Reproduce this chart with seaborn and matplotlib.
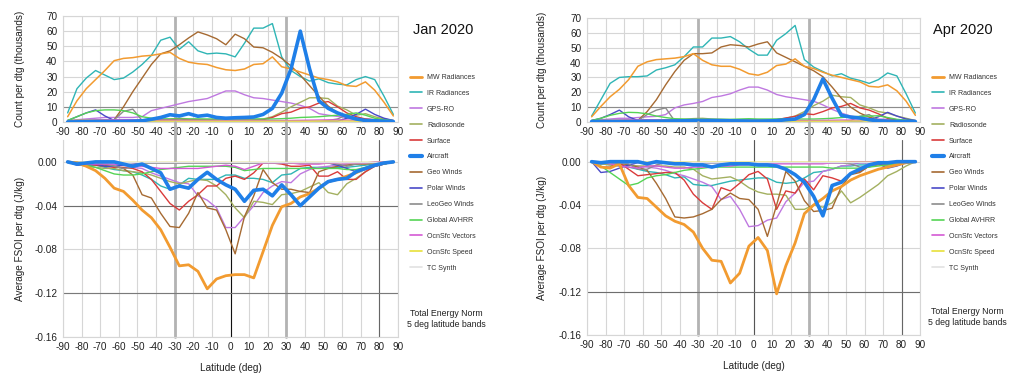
import matplotlib
matplotlib.use("Agg")
import matplotlib.pyplot as plt
from matplotlib.lines import Line2D
import pandas as pd
import seaborn as sns

sns.set_theme(style="white")
plt.rcParams["font.family"] = ["Liberation Sans", "DejaVu Sans"]
plt.rcParams["axes.unicode_minus"] = False

# 5-degree latitude band centres
latitude = [-87.5, -82.5, -77.5, -72.5, -67.5, -62.5, -57.5, -52.5, -47.5, -42.5,
            -37.5, -32.5, -27.5, -22.5, -17.5, -12.5, -7.5, -2.5, 2.5, 7.5,
            12.5, 17.5, 22.5, 27.5, 32.5, 37.5, 42.5, 47.5, 52.5, 57.5,
            62.5, 67.5, 72.5, 77.5, 82.5, 87.5]

series = ["MW Radiances", "IR Radiances", "GPS-RO", "Radiosonde", "Surface", "Aircraft",
          "Geo Winds", "Polar Winds", "LeoGeo Winds", "Global AVHRR", "OcnSfc Vectors",
          "OcnSfc Speed", "TC Synth"]
colors = ["#f29b30", "#2fb5b5", "#bf78e0", "#a3b060", "#d93b3b", "#1f7fe8",
          "#a66a32", "#4a4ac8", "#8c8c8c", "#55d455", "#d45ad4", "#e8e03a", "#e2e2e2"]

# ---------------- January 2020: counts per dtg (thousands) ----------------
jan_cnt_mw = [3.5, 14, 22, 28, 34, 40.5, 42, 42.5, 43.5, 44, 45, 46, 42, 39.5, 38.5, 38, 36, 34.5,
              34, 35, 38, 38.5, 43, 36.5, 35, 33, 31, 29, 28, 26.5, 24, 23.5, 26.5, 21, 13, 4]
jan_cnt_ir = [6, 22, 29, 34, 31, 28, 29, 33, 38, 44, 54, 56, 48, 53, 47, 45, 45.5, 45,
              43, 52, 62, 62, 65, 43, 34, 30, 27, 28.5, 26, 25, 24.5, 28, 30, 28, 17, 5]
jan_cnt_gps = [1, 1.5, 2, 2.5, 3, 3, 3, 3, 3.5, 7.5, 9, 10.5, 12, 13.5, 14.5, 15.5, 18, 20.5,
               20.5, 18, 16, 15.5, 14.5, 13.5, 12.5, 11, 9, 5.5, 4.5, 3.7, 3, 2.5, 2, 1.5, 1.2, 1]
jan_cnt_raob = [1, 1.2, 1.3, 1.4, 1.5, 1.5, 1.5, 1.5, 1.5, 1.6, 1.8, 2, 2.5, 2, 1.8, 1.6, 1.5, 1.4,
                1.4, 1.5, 1.6, 2, 3.5, 6.5, 10, 13, 16, 16, 15.5, 10.5, 8, 4.5, 5.5, 3.5, 2, 1]
jan_cnt_sfc = [0.3, 0.5, 0.6, 0.7, 0.8, 0.9, 1, 1, 1.1, 1.2, 1.3, 1.5, 2, 1.5, 1.3, 1.2, 1.1, 1,
               1, 1, 1.1, 1.5, 3, 5.5, 6.5, 9, 10, 12.5, 13.5, 10, 6, 3.5, 2, 1.5, 1, 0.5]
jan_cnt_air = [0, 0.1, 0.2, 0.3, 0.3, 0.3, 0.4, 0.5, 0.8, 1.8, 3, 4.8, 4, 5.5, 3.8, 4.5, 3, 2.5,
               2.8, 3, 3.3, 5, 9, 19, 35, 60, 35, 14, 9, 6, 3.7, 2, 1, 0.8, 0.5, 0.3]
jan_cnt_geo = [0.5, 0.5, 0.5, 0.5, 0.5, 1.5, 10, 20, 29, 38, 45, 47, 51, 55.5, 59.5, 57.5, 55, 51,
               58, 55, 49.5, 49, 46, 42, 37, 31, 24, 17, 10.5, 6, 3, 1.5, 1, 0.8, 0.5, 0.3]
jan_cnt_polar = [1, 3.5, 6, 8, 4, 1, 0.3, 0.2, 0.2, 0.2, 0.2, 0.2, 0.2, 0.2, 0.2, 0.2, 0.2, 0.2,
                 0.2, 0.2, 0.2, 0.2, 0.2, 0.2, 0.2, 0.2, 0.2, 0.3, 0.4, 0.5, 2.5, 5, 8.5, 5, 2.5, 1]
jan_cnt_leogeo = [0.3, 0.3, 0.3, 0.3, 0.5, 1.5, 7, 8.5, 1, 0.3, 0.3, 0.3, 0.3, 0.3, 0.3, 0.3, 0.3, 0.3,
                  0.3, 0.3, 0.3, 0.3, 0.3, 0.3, 0.3, 0.3, 0.3, 0.3, 1, 2, 4.8, 2.5, 0.5, 0.3, 0.3, 0.3]
jan_cnt_avhrr = [1, 3.5, 6, 7.5, 8, 8, 7.5, 6, 3.5, 2.5, 2, 2, 2, 2, 2, 2, 2, 2,
                 2.2, 2.2, 2, 2, 2, 2.2, 2.5, 3, 3.2, 3.5, 4, 4.5, 5, 6, 4.5, 2.5, 1.5, 0.8]
jan_cnt_vec = [0.5, 0.8, 1, 1.2, 1.3, 1.4, 1.5, 1.5, 1.4, 1.3, 1.2, 1.2, 1.1, 1.1, 1, 1, 1, 1,
               1, 1, 1, 1, 1, 1, 1, 1.1, 1.2, 1.3, 1.4, 1.4, 1.3, 1.2, 1, 0.8, 0.6, 0.4]
jan_cnt_spd = [0.3, 0.4, 0.5, 0.5, 0.6, 0.6, 0.6, 0.6, 0.6, 0.6, 0.5, 0.5, 0.5, 0.5, 0.5, 0.5, 0.5, 0.5,
               0.5, 0.5, 0.5, 0.5, 0.5, 0.5, 0.5, 0.5, 0.5, 0.6, 0.6, 0.6, 0.6, 0.5, 0.4, 0.3, 0.3, 0.2]
jan_cnt_tc = [0, 0, 0, 0, 0, 0, 0, 0, 0, 0, 0, 0, 0, 0, 0, 0, 0, 0,
              0, 0, 0, 0, 0, 0, 0, 0, 0, 0, 0, 0, 0, 0, 0, 0, 0, 0]

# ---------------- April 2020: counts per dtg (thousands) ----------------
apr_cnt_mw = [3.5, 10.5, 17, 22, 28.5, 37.5, 40.5, 42, 42.5, 43, 44, 46, 41.5, 38.5, 37.5, 37.5, 35.5, 32.5,
              31.5, 33.5, 38, 39, 42.5, 37.5, 36, 33.5, 31.5, 30, 28.5, 27, 24, 23.5, 25, 21, 14, 4.5]
apr_cnt_ir = [4, 15, 26, 30, 30.5, 30.5, 31, 35, 36.5, 38.5, 44, 50.5, 50.5, 56.5, 56.5, 57.5, 54, 49,
              45, 45, 55, 59.5, 65, 42, 37, 34, 31, 32.5, 29.5, 28, 26, 28.5, 33, 31, 19, 6]
apr_cnt_gps = [1, 1.5, 2, 2.5, 2.5, 3, 3.5, 3.8, 5, 9.5, 11.5, 12.5, 13.8, 16.5, 17.5, 19, 21.5, 23.5,
               23.5, 21.5, 18.5, 17, 16, 15, 14, 11.5, 8.5, 6, 4, 3, 2.5, 2, 1.8, 1.5, 1.2, 1]
apr_cnt_raob = [1, 1.1, 1.2, 1.3, 1.4, 1.4, 1.4, 1.5, 1.5, 1.6, 1.8, 2.3, 2.5, 2, 1.8, 1.6, 1.5, 1.4,
                1.4, 1.5, 1.8, 2.5, 4, 7, 11, 14, 18, 17, 16.5, 11.5, 9.5, 7, 6, 4, 2.5, 1]
apr_cnt_sfc = [0.3, 0.5, 0.6, 0.7, 0.8, 0.9, 1, 1, 1.1, 1.2, 1.3, 1.4, 1.5, 1.4, 1.3, 1.2, 1.1, 1,
               1, 1.1, 1.5, 2.7, 3.8, 5.6, 5, 7, 9.4, 10.5, 12.5, 9.5, 8, 5.5, 2.5, 1.5, 1, 0.5]
apr_cnt_air = [0.3, 0.3, 0.3, 0.3, 0.3, 0.4, 0.5, 0.5, 0.6, 0.7, 0.8, 1, 1, 1, 0.9, 0.8, 0.7, 0.6,
               0.6, 0.7, 0.9, 1.5, 2, 5, 15, 29, 16, 4.5, 3.3, 2.7, 1.5, 0.8, 0.5, 0.4, 0.3, 0.3]
apr_cnt_geo = [0.5, 0.5, 0.5, 0.5, 0.5, 1, 7, 15, 25, 34, 41.5, 46, 46, 46.5, 50.5, 52, 51.5, 50.5,
               52.5, 54, 46.5, 43.5, 40.5, 37.5, 34.5, 30.5, 23.5, 16, 10, 6, 3.3, 1.5, 1, 0.8, 0.5, 0.3]
apr_cnt_polar = [1, 2.5, 5, 8, 3.5, 1, 0.3, 0.2, 0.2, 0.2, 0.2, 0.2, 0.2, 0.2, 0.2, 0.2, 0.2, 0.2,
                 0.2, 0.2, 0.2, 0.2, 0.2, 0.2, 0.2, 0.2, 0.2, 0.2, 0.2, 0.3, 1.5, 3.5, 6.5, 4, 2, 1]
apr_cnt_leogeo = [0.3, 0.3, 0.3, 0.3, 0.5, 1, 5, 8, 9.5, 0.5, 0.3, 0.3, 0.3, 0.3, 0.3, 0.3, 0.3, 0.3,
                  0.3, 0.3, 0.3, 0.3, 0.3, 0.3, 0.3, 0.3, 0.3, 0.3, 1, 3.8, 5, 1, 0.3, 0.3, 0.3, 0.3]
apr_cnt_avhrr = [1, 2.5, 4.5, 5.8, 6.5, 6.3, 5.5, 4, 3, 2.2, 2, 1.8, 1.8, 1.8, 1.8, 1.8, 2, 2.2,
                 2, 2, 2, 2, 2, 2, 2, 2.2, 2.5, 3, 3.5, 3.8, 4, 4.2, 3, 1.8, 1.2, 0.8]
apr_cnt_vec = [0.5, 0.8, 1, 1.2, 1.3, 1.4, 1.4, 1.4, 1.3, 1.2, 1.2, 1.1, 1.1, 1, 1, 1, 1, 1,
               1, 1, 1, 1, 1, 1, 1, 1.1, 1.2, 1.3, 1.3, 1.3, 1.2, 1.1, 1, 0.8, 0.6, 0.4]
apr_cnt_spd = [0.3, 0.4, 0.5, 0.5, 0.6, 0.6, 0.6, 0.6, 0.6, 0.5, 0.5, 0.5, 0.5, 0.5, 0.5, 0.5, 0.5, 0.5,
               0.5, 0.5, 0.5, 0.5, 0.5, 0.5, 0.5, 0.5, 0.5, 0.5, 0.6, 0.6, 0.6, 0.5, 0.4, 0.3, 0.3, 0.2]
apr_cnt_tc = [0, 0, 0, 0, 0, 0, 0, 0, 0, 0, 0, 0, 0, 0, 0, 0, 0, 0,
              0, 0, 0, 0, 0, 0, 0, 0, 0, 0, 0, 0, 0, 0, 0, 0, 0, 0]

# ---------------- January 2020: average FSOI per dtg (J/kg) ----------------
jan_fsoi_mw = [0, -0.001, -0.004, -0.008, -0.015, -0.024, -0.027, -0.035, -0.044, -0.051, -0.062, -0.078,
               -0.095, -0.094, -0.100, -0.116, -0.107, -0.104, -0.103, -0.103, -0.106, -0.082, -0.058, -0.041,
               -0.038, -0.032, -0.029, -0.024, -0.018, -0.016, -0.013, -0.010, -0.006, -0.003, -0.001, 0]
jan_fsoi_ir = [0, -0.002, -0.003, -0.003, -0.005, -0.007, -0.008, -0.009, -0.012, -0.016, -0.022, -0.025,
               -0.021, -0.015, -0.016, -0.016, -0.016, -0.012, -0.012, -0.015, -0.015, -0.016, -0.019, -0.012,
               -0.011, -0.006, -0.005, -0.005, -0.005, -0.005, -0.005, -0.004, -0.003, -0.002, -0.001, 0]
jan_fsoi_gps = [0, -0.001, -0.002, -0.002, -0.002, -0.002, -0.003, -0.005, -0.006, -0.010, -0.013, -0.016,
                -0.019, -0.020, -0.031, -0.035, -0.042, -0.060, -0.060, -0.050, -0.040, -0.028, -0.022, -0.018,
                -0.019, -0.011, -0.007, -0.005, -0.004, -0.003, -0.002, -0.002, -0.001, -0.001, -0.001, 0]
jan_fsoi_raob = [0, -0.002, -0.004, -0.005, -0.006, -0.006, -0.008, -0.009, -0.010, -0.012, -0.015, -0.018,
                 -0.020, -0.018, -0.016, -0.017, -0.022, -0.030, -0.042, -0.051, -0.036, -0.037, -0.039, -0.030,
                 -0.029, -0.027, -0.023, -0.019, -0.028, -0.030, -0.020, -0.015, -0.009, -0.004, -0.002, 0]
jan_fsoi_sfc = [0, -0.001, -0.002, -0.003, -0.004, -0.005, -0.005, -0.006, -0.009, -0.016, -0.027, -0.038,
                -0.044, -0.036, -0.030, -0.022, -0.022, -0.015, -0.013, -0.016, -0.010, -0.001, -0.001, -0.002,
                -0.004, -0.004, -0.003, -0.013, -0.013, -0.009, -0.016, -0.016, -0.009, -0.004, -0.002, 0]
jan_fsoi_air = [0, -0.002, -0.001, 0, 0, 0, -0.002, -0.004, -0.002, -0.006, -0.010, -0.025,
                -0.022, -0.024, -0.016, -0.0095, -0.016, -0.021, -0.025, -0.036, -0.026, -0.025, -0.031, -0.021,
                -0.030, -0.040, -0.032, -0.024, -0.018, -0.016, -0.015, -0.009, -0.006, -0.003, -0.001, 0]
jan_fsoi_geo = [0, -0.001, -0.002, -0.002, -0.003, -0.004, -0.006, -0.012, -0.030, -0.033, -0.047, -0.059,
                -0.060, -0.047, -0.028, -0.042, -0.044, -0.062, -0.084, -0.050, -0.031, -0.007, -0.019, -0.025,
                -0.025, -0.027, -0.028, -0.009, -0.006, -0.004, -0.003, -0.002, -0.002, -0.001, -0.001, 0]
jan_fsoi_polar = [0, -0.003, -0.003, -0.002, -0.004, -0.004, -0.003, -0.002, -0.001, -0.001, -0.001, -0.001,
                  -0.001, -0.001, -0.001, -0.001, -0.001, -0.001, -0.001, -0.001, -0.001, -0.001, -0.001, -0.001,
                  -0.001, -0.001, -0.001, -0.001, -0.001, -0.003, -0.006, -0.009, -0.007, -0.004, -0.002, 0]
jan_fsoi_leogeo = [0, 0, -0.001, -0.001, -0.002, -0.004, -0.006, -0.005, -0.002, -0.001, -0.001, -0.001,
                   -0.001, -0.001, -0.001, -0.001, -0.001, -0.001, -0.001, -0.001, -0.001, -0.001, -0.001, -0.001,
                   -0.001, -0.001, -0.001, -0.001, -0.001, -0.002, -0.004, -0.002, -0.001, -0.001, 0, 0]
jan_fsoi_avhrr = [0, -0.002, -0.003, -0.005, -0.008, -0.011, -0.012, -0.012, -0.011, -0.009, -0.007, -0.006,
                  -0.005, -0.004, -0.004, -0.004, -0.004, -0.004, -0.005, -0.008, -0.007, -0.006, -0.006, -0.006,
                  -0.006, -0.006, -0.006, -0.006, -0.006, -0.006, -0.007, -0.007, -0.005, -0.003, -0.002, 0]
jan_fsoi_vec = [0, -0.001, -0.002, -0.002, -0.002, -0.002, -0.002, -0.003, -0.004, -0.005, -0.006, -0.006,
                -0.006, -0.006, -0.006, -0.005, -0.004, -0.003, -0.004, -0.007, -0.004, -0.001, -0.001, -0.001,
                -0.001, -0.002, -0.002, -0.002, -0.001, -0.001, -0.001, -0.001, -0.001, 0, 0, 0]
jan_fsoi_spd = [0, -0.0005, -0.0005, -0.0005, -0.0005, -0.0005, -0.0005, -0.0005, -0.0005, -0.0005, -0.0005, -0.0005,
                -0.0005, -0.0005, -0.0005, -0.0005, -0.0005, -0.0005, -0.0005, -0.0005, -0.0005, -0.0005, -0.0005, -0.0005,
                -0.0005, -0.0005, -0.0005, -0.0005, -0.0005, -0.0005, -0.0005, -0.0005, -0.0005, -0.0005, -0.0005, 0]
jan_fsoi_tc = [0, 0, 0, 0, 0, 0, 0, 0, 0, 0, 0, 0, 0, 0, 0, 0, 0, 0,
               0, 0, 0, 0, 0, 0, 0, 0, 0, 0, 0, 0, 0, 0, 0, 0, 0, 0]

# ---------------- April 2020: average FSOI per dtg (J/kg) ----------------
apr_fsoi_mw = [0, -0.005, -0.006, -0.002, -0.022, -0.033, -0.034, -0.042, -0.050, -0.055, -0.058, -0.065,
               -0.080, -0.091, -0.092, -0.112, -0.103, -0.078, -0.070, -0.082, -0.122, -0.096, -0.075, -0.048,
               -0.040, -0.034, -0.027, -0.023, -0.017, -0.013, -0.010, -0.007, -0.005, -0.003, -0.001, 0]
apr_fsoi_ir = [0, -0.002, -0.003, -0.004, -0.005, -0.007, -0.009, -0.010, -0.012, -0.015, -0.014, -0.021,
               -0.022, -0.022, -0.020, -0.018, -0.017, -0.016, -0.015, -0.015, -0.019, -0.020, -0.019, -0.015,
               -0.010, -0.009, -0.007, -0.004, -0.004, -0.003, -0.003, -0.002, -0.002, -0.001, -0.001, 0]
apr_fsoi_gps = [0, -0.002, -0.002, -0.002, -0.003, -0.004, -0.005, -0.006, -0.008, -0.011, -0.013, -0.016,
                -0.019, -0.023, -0.035, -0.032, -0.044, -0.060, -0.059, -0.054, -0.052, -0.037, -0.029, -0.019,
                -0.018, -0.009, -0.007, -0.004, -0.003, -0.001, -0.001, -0.001, -0.001, 0, 0, 0]
apr_fsoi_raob = [0, -0.002, -0.003, -0.003, -0.003, -0.004, -0.004, -0.004, -0.004, -0.005, -0.005, -0.007,
                 -0.013, -0.016, -0.015, -0.014, -0.018, -0.024, -0.028, -0.030, -0.030, -0.031, -0.044, -0.044,
                 -0.040, -0.042, -0.038, -0.027, -0.038, -0.033, -0.027, -0.021, -0.013, -0.009, -0.004, 0]
apr_fsoi_sfc = [0, -0.005, -0.005, -0.001, -0.007, -0.013, -0.012, -0.011, -0.010, -0.010, -0.017, -0.030,
                -0.038, -0.044, -0.024, -0.027, -0.020, -0.012, -0.009, -0.016, -0.044, -0.027, -0.029, -0.016,
                -0.026, -0.013, -0.015, -0.018, -0.011, -0.009, -0.004, -0.003, -0.003, -0.002, -0.001, 0]
apr_fsoi_air = [0, -0.001, 0, 0, 0, 0, -0.002, 0, -0.001, -0.002, -0.002, -0.003,
                -0.003, -0.005, -0.003, -0.002, -0.002, -0.002, -0.003, -0.003, -0.004, -0.007, -0.012, -0.019,
                -0.032, -0.050, -0.022, -0.019, -0.011, -0.007, -0.003, -0.001, -0.001, 0, 0, 0]
apr_fsoi_geo = [0, -0.001, -0.001, -0.001, -0.003, -0.005, -0.008, -0.020, -0.034, -0.051, -0.052, -0.051,
                -0.048, -0.044, -0.035, -0.029, -0.034, -0.035, -0.044, -0.069, -0.040, -0.009, -0.018, -0.036,
                -0.046, -0.045, -0.043, -0.023, -0.012, -0.010, -0.004, -0.002, -0.001, -0.001, 0, 0]
apr_fsoi_polar = [0, -0.010, -0.009, -0.006, -0.003, -0.001, -0.001, -0.001, -0.001, -0.001, -0.001, -0.001,
                  -0.001, -0.001, -0.001, -0.001, -0.001, -0.001, -0.001, -0.001, -0.001, -0.001, -0.001, -0.001,
                  -0.001, -0.001, -0.001, -0.001, -0.001, -0.001, -0.001, -0.002, -0.006, -0.004, -0.001, 0]
apr_fsoi_leogeo = [0, 0, -0.001, -0.001, -0.002, -0.007, -0.007, -0.003, -0.001, -0.001, -0.001, -0.001,
                   -0.001, -0.001, -0.001, -0.001, -0.001, -0.001, -0.001, -0.001, -0.001, -0.001, -0.001, -0.001,
                   -0.001, -0.001, -0.001, -0.001, -0.002, -0.005, -0.005, -0.002, -0.001, 0, 0, 0]
apr_fsoi_avhrr = [0, -0.004, -0.010, -0.016, -0.022, -0.020, -0.015, -0.013, -0.012, -0.010, -0.008, -0.007,
                  -0.006, -0.005, -0.005, -0.005, -0.005, -0.005, -0.005, -0.005, -0.005, -0.005, -0.005, -0.005,
                  -0.005, -0.005, -0.006, -0.006, -0.006, -0.006, -0.005, -0.004, -0.003, -0.002, -0.001, 0]
apr_fsoi_vec = [0, -0.001, -0.002, -0.004, -0.005, -0.006, -0.004, -0.004, -0.005, -0.006, -0.006, -0.005,
                -0.005, -0.004, -0.004, -0.004, -0.003, -0.003, -0.003, -0.002, -0.002, -0.002, -0.002, -0.002,
                -0.002, -0.002, -0.001, -0.001, 0, 0, 0, 0, 0, 0, 0, 0]
apr_fsoi_spd = [0, -0.0005, -0.0005, -0.0005, -0.0005, -0.0005, -0.0005, -0.0005, -0.0005, -0.0005, -0.0005, -0.0005,
                -0.0005, -0.0005, -0.0005, -0.0005, -0.0005, -0.0005, -0.0005, -0.0005, -0.0005, -0.0005, -0.0005, -0.0005,
                -0.0005, -0.0005, -0.0005, -0.0005, -0.0005, -0.0005, -0.0005, -0.0005, -0.0005, -0.0005, -0.0005, 0]
apr_fsoi_tc = [0, 0, 0, 0, 0, 0, 0, 0, 0, 0, 0, 0, 0, 0, 0, 0, 0, 0,
               0, 0, 0, 0, 0, 0, 0, 0, 0, 0, 0, 0, 0, 0, 0, 0, 0, 0]

jan_counts = [jan_cnt_mw, jan_cnt_ir, jan_cnt_gps, jan_cnt_raob, jan_cnt_sfc, jan_cnt_air, jan_cnt_geo,
              jan_cnt_polar, jan_cnt_leogeo, jan_cnt_avhrr, jan_cnt_vec, jan_cnt_spd, jan_cnt_tc]
apr_counts = [apr_cnt_mw, apr_cnt_ir, apr_cnt_gps, apr_cnt_raob, apr_cnt_sfc, apr_cnt_air, apr_cnt_geo,
              apr_cnt_polar, apr_cnt_leogeo, apr_cnt_avhrr, apr_cnt_vec, apr_cnt_spd, apr_cnt_tc]
jan_fsoi = [jan_fsoi_mw, jan_fsoi_ir, jan_fsoi_gps, jan_fsoi_raob, jan_fsoi_sfc, jan_fsoi_air, jan_fsoi_geo,
            jan_fsoi_polar, jan_fsoi_leogeo, jan_fsoi_avhrr, jan_fsoi_vec, jan_fsoi_spd, jan_fsoi_tc]
apr_fsoi = [apr_fsoi_mw, apr_fsoi_ir, apr_fsoi_gps, apr_fsoi_raob, apr_fsoi_sfc, apr_fsoi_air, apr_fsoi_geo,
            apr_fsoi_polar, apr_fsoi_leogeo, apr_fsoi_avhrr, apr_fsoi_vec, apr_fsoi_spd, apr_fsoi_tc]

count_ticks = [0, 10, 20, 30, 40, 50, 60, 70]
fsoi_ticks = [0.0, -0.04, -0.08, -0.12, -0.16]
lat_ticks = [-90, -80, -70, -60, -50, -40, -30, -20, -10, 0, 10, 20, 30, 40, 50, 60, 70, 80, 90]

GRID = "#d6d6d6"
FS = 7.2


def long_frame(values):
    parts = [pd.DataFrame({"Latitude": latitude, "value": v, "series": name})
             for name, v in zip(series, values)]
    return pd.concat(parts, ignore_index=True)


def draw_lines(ax, values, fsoi):
    df = long_frame(values)
    for k, name in enumerate(series):
        lw = 1.0
        z = 3
        if name == "Aircraft":
            lw, z = 2.6, 6
        elif name == "MW Radiances":
            lw, z = (2.0, 5) if fsoi else (1.1, 4)
        sub = df[df["series"] == name]
        sns.lineplot(data=sub, x="Latitude", y="value", ax=ax, color=colors[k],
                     linewidth=lw, zorder=z, legend=False, sort=False, estimator=None)


def base_style(ax):
    ax.set_xlim(-90, 90)
    ax.set_xticks(lat_ticks)
    ax.grid(True, color=GRID, linewidth=0.8, zorder=0)
    ax.tick_params(length=0, labelsize=FS, colors="#222222")
    ax.tick_params(axis="y", pad=4)
    ax.tick_params(axis="x", pad=3.5)
    ax.set_xlabel("")
    for s in ax.spines.values():
        s.set_color(GRID)
        s.set_linewidth(0.8)


def style_top(ax):
    base_style(ax)
    ax.set_ylim(0, 70)
    ax.set_yticks(count_ticks)
    ax.axhline(10, color="#8c8c8c", linewidth=0.8, zorder=1)
    for x in (-30, 30):
        ax.axvline(x, color="#b3b3b3", linewidth=2.0, zorder=1)
    ax.set_ylabel("Count per dtg (thousands)", fontsize=FS, color="#222222")


def style_bottom(ax, gap_frac, zero_color, dark_h):
    base_style(ax)
    ax.set_ylim(-0.16, 0.02)
    ax.set_yticks(fsoi_ticks)
    ax.set_yticklabels([f"{t:.2f}" for t in fsoi_ticks])
    ax.spines["top"].set_visible(False)
    for x in (-30, 30):
        ax.axvline(x, ymin=0, ymax=1 + gap_frac, color="#b3b3b3", linewidth=2.0,
                   zorder=1, clip_on=False)
    ax.axvline(0, color=zero_color, linewidth=0.8, zorder=1)
    ax.axvline(80, color="#666666", linewidth=0.8, zorder=1)
    for y, c in dark_h:
        ax.axhline(y, color=c, linewidth=0.8, zorder=1)
    ax.set_ylabel("Average FSOI per dtg (J/kg)", fontsize=FS, color="#222222")
    ax.set_xlabel("Latitude (deg)", fontsize=FS, color="#222222", labelpad=8)


W, H = 1014, 375
fig = plt.figure(figsize=(W / 100, H / 100), dpi=100)
fig.patch.set_facecolor("white")


def box(x0, y0, x1, y1):
    return [x0 / W, 1 - y1 / H, (x1 - x0) / W, (y1 - y0) / H]


ax_jt = fig.add_axes(box(63, 16, 398, 122))
ax_jb = fig.add_axes(box(63, 140, 398, 337))
ax_at = fig.add_axes(box(587, 18, 920, 122))
ax_ab = fig.add_axes(box(587, 140, 920, 335))

draw_lines(ax_jt, jan_counts, False)
draw_lines(ax_at, apr_counts, False)
draw_lines(ax_jb, jan_fsoi, True)
draw_lines(ax_ab, apr_fsoi, True)

style_top(ax_jt)
style_top(ax_at)
style_bottom(ax_jb, 18 / 197, "#111111", [(-0.04, "#6e6e6e"), (-0.12, "#7a7a7a")])
style_bottom(ax_ab, 18 / 195, "#555555", [(-0.12, "#6e6e6e")])

for ax in (ax_jt, ax_jb):
    ax.yaxis.set_label_coords(-38 / 335, 0.5)
for ax in (ax_at, ax_ab):
    ax.yaxis.set_label_coords(-40 / 333, 0.5)

# month titles and notes
fig.text(413 / W, 1 - 30 / H, "Jan 2020", fontsize=10.5, va="center", ha="left", color="#111111")
fig.text(933 / W, 1 - 30 / H, "Apr 2020", fontsize=10.5, va="center", ha="left", color="#111111")
fig.text(446 / W, 1 - 319 / H, "Total Energy Norm\n5 deg latitude bands", fontsize=6.3,
         ha="center", va="center", linespacing=1.15, color="#222222")
fig.text(967 / W, 1 - 317 / H, "Total Energy Norm\n5 deg latitude bands", fontsize=6.3,
         ha="center", va="center", linespacing=1.15, color="#222222")

# legends
handles = []
for k, name in enumerate(series):
    lw = 1.2
    if name == "MW Radiances":
        lw = 2.0
    elif name == "Aircraft":
        lw = 3.0
    handles.append(Line2D([0], [0], color=colors[k], linewidth=lw))

for x0 in (410, 932):
    fig.legend(handles, series, loc="upper left", bbox_to_anchor=(x0 / W, 1 - 74 / H),
               frameon=False, fontsize=5.0, handlelength=1.75, handletextpad=0.7,
               labelspacing=1.28, borderpad=0, borderaxespad=0, labelcolor="#333333")

fig.savefig("out.png", dpi=100, facecolor="white")
